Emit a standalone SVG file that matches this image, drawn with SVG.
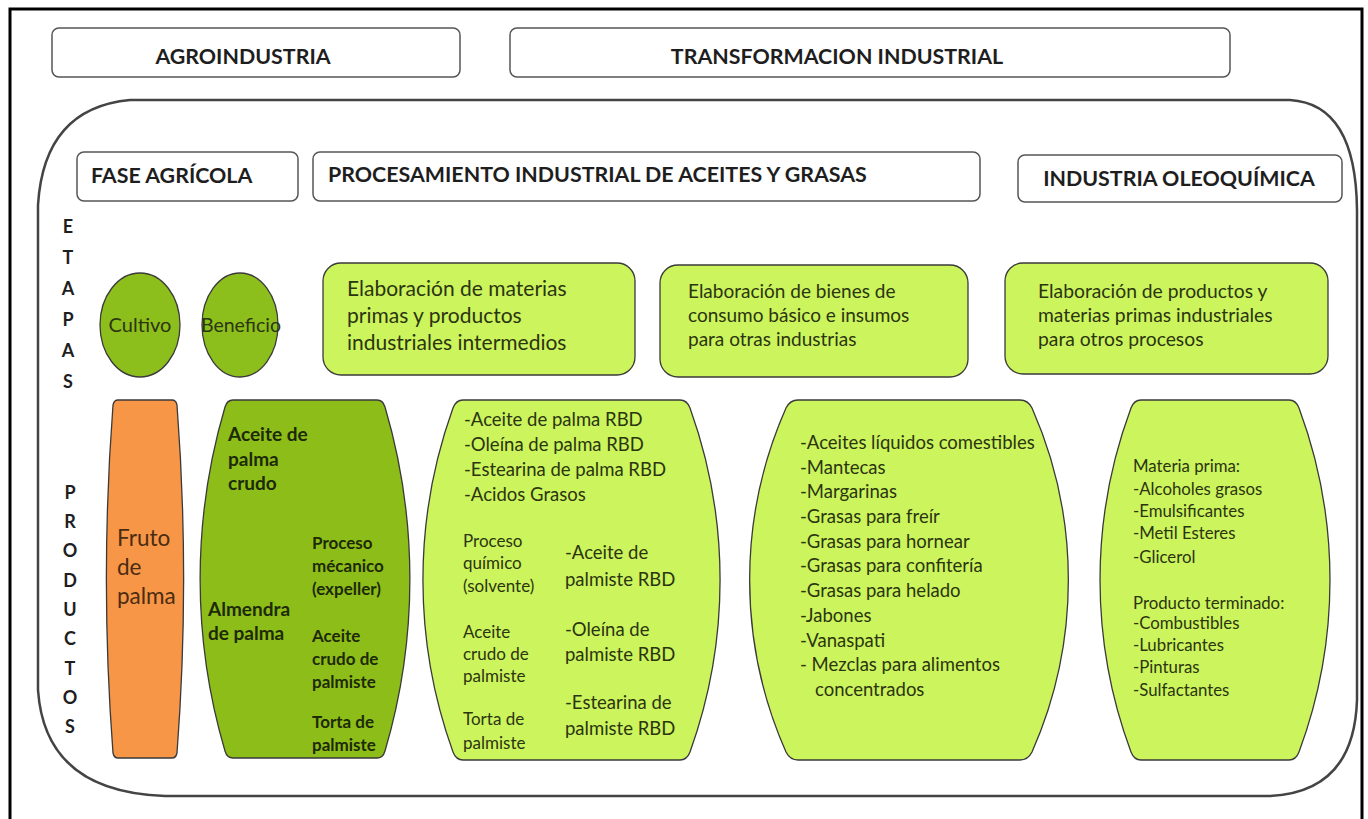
<svg xmlns="http://www.w3.org/2000/svg" width="1368" height="819" viewBox="0 0 1368 819">
<style>
.hdr{fill:#fff;stroke:#555;stroke-width:1.5}
.ht{font-family:Lato,"Open Sans",sans-serif;font-weight:bold;font-size:21.4px;fill:#1e1e1e}
.vt{font-family:Lato,"Open Sans",sans-serif;font-weight:bold;font-size:18px;fill:#1e1e1e;text-anchor:middle}
.circ{fill:#8dbf1c;stroke:#3a3a3a;stroke-width:1.3}
.lime{fill:#ccf45c;stroke:#3a3a3a;stroke-width:1.3}
.dark{fill:#8dbd19;stroke:#3a3a3a;stroke-width:1.3}
.orange{fill:#f79646;stroke:#3a3a3a;stroke-width:1.3}
.t{font-family:Lato,"Open Sans",sans-serif;fill:#2b3510}
.b{font-family:Lato,"Open Sans",sans-serif;font-weight:bold;fill:#1d2a06}
</style>
<rect width="1368" height="819" fill="#fff"/>
<path d="M10,830 L10,9 L1362,9 L1362,830" fill="none" stroke="#000" stroke-width="3"/>

<g id="agroindustria"><rect class="hdr" x="52" y="28" width="408" height="49" rx="7"/><text class="ht" x="243" y="64" text-anchor="middle">AGROINDUSTRIA</text></g>
<g id="transformacion"><rect class="hdr" x="510" y="28" width="720" height="49" rx="7"/><text class="ht" x="837" y="64" text-anchor="middle">TRANSFORMACION INDUSTRIAL</text></g>

<g id="contenedor"><path d="M130,100 L1290,100 Q1356,104 1357,210 L1357,700 Q1354,792 1270,796 L165,796 Q45,792 38,690 L38,205 Q44,108 130,100 Z" fill="none" stroke="#444" stroke-width="2.5"/></g>

<g id="fase-agricola"><rect class="hdr" x="77" y="152" width="221" height="49" rx="7"/><text class="ht" x="91" y="183">FASE AGRÍCOLA</text></g>
<g id="procesamiento"><rect class="hdr" x="313" y="152" width="667" height="49" rx="7"/><text class="ht" x="328" y="182">PROCESAMIENTO INDUSTRIAL DE ACEITES Y GRASAS</text></g>
<g id="oleoquimica"><rect class="hdr" x="1018" y="155" width="324" height="47" rx="7"/><text class="ht" x="1179" y="186" text-anchor="middle">INDUSTRIA OLEOQUÍMICA</text></g>

<g id="etapas">
<text class="vt" x="68" y="233">E</text><text class="vt" x="68" y="264">T</text><text class="vt" x="68" y="295">A</text><text class="vt" x="68" y="326">P</text><text class="vt" x="68" y="357">A</text><text class="vt" x="68" y="388">S</text>
</g>
<g id="productos">
<text class="vt" x="70" y="499">P</text><text class="vt" x="70" y="528">R</text><text class="vt" x="70" y="557">O</text><text class="vt" x="70" y="587">D</text><text class="vt" x="70" y="616">U</text><text class="vt" x="70" y="645">C</text><text class="vt" x="70" y="675">T</text><text class="vt" x="70" y="704">O</text><text class="vt" x="70" y="733">S</text>
</g>

<g id="cultivo"><ellipse class="circ" cx="140" cy="325" rx="40" ry="52"/><text class="t" x="140" y="332" font-size="20" text-anchor="middle">Cultivo</text></g>
<g id="beneficio"><ellipse class="circ" cx="240" cy="325" rx="38" ry="52"/><text class="t" x="241" y="332" font-size="19.5" text-anchor="middle">Beneficio</text></g>

<g id="etapa-materias"><rect class="lime" x="323" y="263" width="312" height="112" rx="18"/>
<text class="t" font-size="21"><tspan x="347" y="296">Elaboración de materias</tspan><tspan x="347" y="323">primas y productos</tspan><tspan x="347" y="350">industriales intermedios</tspan></text></g>
<g id="etapa-bienes"><rect class="lime" x="660" y="265" width="308" height="112" rx="18"/>
<text class="t" font-size="19"><tspan x="688" y="298">Elaboración de bienes de</tspan><tspan x="688" y="322">consumo básico e insumos</tspan><tspan x="688" y="346">para otras industrias</tspan></text></g>
<g id="etapa-productos"><rect class="lime" x="1005" y="263" width="323" height="111" rx="18"/>
<text class="t" font-size="19.3"><tspan x="1038" y="298">Elaboración de productos y</tspan><tspan x="1038" y="322">materias primas industriales</tspan><tspan x="1038" y="346">para otros procesos</tspan></text></g>

<g id="fruto"><path class="orange" d="M118,400 L172,400 Q176,400 177,405 A2290,2290 0 0 1 177,753 Q176,758 172,758 L118,758 Q114,758 113,753 A2290,2290 0 0 1 113,405 Q114,400 118,400 Z"/>
<text class="t" font-size="22.5" style="fill:#4a2c12"><tspan x="117" y="546">Fruto</tspan><tspan x="117" y="575">de</tspan><tspan x="117" y="604">palma</tspan></text></g>

<g id="beneficio-productos"><path class="dark" d="M233,400 L377,400 Q383,400 385,407 A607,607 0 0 1 385,751 Q383,758 377,758 L233,758 Q227,758 225,751 A607,607 0 0 1 225,407 Q227,400 233,400 Z"/>
<text class="b" font-size="19"><tspan x="228" y="441">Aceite de</tspan><tspan x="228" y="466">palma</tspan><tspan x="228" y="490">crudo</tspan>
<tspan x="208" y="616">Almendra</tspan><tspan x="208" y="640">de palma</tspan></text>
<text class="b" font-size="17"><tspan x="312" y="549">Proceso</tspan><tspan x="312" y="572">mécanico</tspan><tspan x="312" y="595">(expeller)</tspan>
<tspan x="312" y="642">Aceite</tspan><tspan x="312" y="665">crudo de</tspan><tspan x="312" y="688">palmiste</tspan>
<tspan x="312" y="728">Torta de</tspan><tspan x="312" y="751">palmiste</tspan></text></g>

<g id="procesamiento-productos"><path class="lime" d="M463,400 L680,400 Q687,400 690,408 A507,507 0 0 1 690,752 Q687,760 680,760 L463,760 Q456,760 453,752 A507,507 0 0 1 453,408 Q456,400 463,400 Z"/>
<text class="t" font-size="18.5"><tspan x="464" y="426">-Aceite de palma RBD</tspan><tspan x="464" y="451">-Oleína de palma RBD</tspan><tspan x="464" y="476">-Estearina de palma RBD</tspan><tspan x="464" y="501">-Acidos Grasos</tspan>
<tspan x="565" y="559">-Aceite de</tspan><tspan x="565" y="586">palmiste RBD</tspan>
<tspan x="565" y="636">-Oleína de</tspan><tspan x="565" y="661">palmiste RBD</tspan>
<tspan x="565" y="709">-Estearina de</tspan><tspan x="565" y="735">palmiste RBD</tspan></text>
<text class="t" font-size="17"><tspan x="463" y="547">Proceso</tspan><tspan x="463" y="569">químico</tspan><tspan x="463" y="592">(solvente)</tspan>
<tspan x="463" y="638">Aceite</tspan><tspan x="463" y="660">crudo de</tspan><tspan x="463" y="682">palmiste</tspan>
<tspan x="463" y="725">Torta de</tspan><tspan x="463" y="749">palmiste</tspan></text></g>

<g id="consumo-productos"><path class="lime" d="M798,400 L1020,400 Q1028,400 1032,408 A425,425 0 0 1 1032,752 Q1028,760 1020,760 L798,760 Q790,760 786,752 A425,425 0 0 1 786,408 Q790,400 798,400 Z"/>
<text class="t" font-size="18.5"><tspan x="800" y="449">-Aceites líquidos comestibles</tspan><tspan x="800" y="474">-Mantecas</tspan><tspan x="800" y="498">-Margarinas</tspan><tspan x="800" y="523">-Grasas para freír</tspan><tspan x="800" y="548">-Grasas para hornear</tspan><tspan x="800" y="572">-Grasas para confitería</tspan><tspan x="800" y="597">-Grasas para helado</tspan><tspan x="800" y="622">-Jabones</tspan><tspan x="800" y="647">-Vanaspati</tspan><tspan x="800" y="671">- Mezclas para alimentos</tspan><tspan x="815" y="696">concentrados</tspan></text></g>

<g id="oleoquimica-productos"><path class="lime" d="M1141,400 L1289,400 Q1296,400 1299,408 A493,493 0 0 1 1299,752 Q1296,760 1289,760 L1141,760 Q1134,760 1131,752 A493,493 0 0 1 1131,408 Q1134,400 1141,400 Z"/>
<text class="t" font-size="16.8"><tspan x="1133" y="472">Materia prima:</tspan><tspan x="1133" y="495">-Alcoholes grasos</tspan><tspan x="1133" y="517">-Emulsificantes</tspan><tspan x="1133" y="539">-Metil Esteres</tspan><tspan x="1133" y="563">-Glicerol</tspan>
<tspan x="1133" y="609">Producto terminado:</tspan><tspan x="1133" y="629">-Combustibles</tspan><tspan x="1133" y="651">-Lubricantes</tspan><tspan x="1133" y="673">-Pinturas</tspan><tspan x="1133" y="696">-Sulfactantes</tspan></text></g>
<g id="connectors"></g>
</svg>
